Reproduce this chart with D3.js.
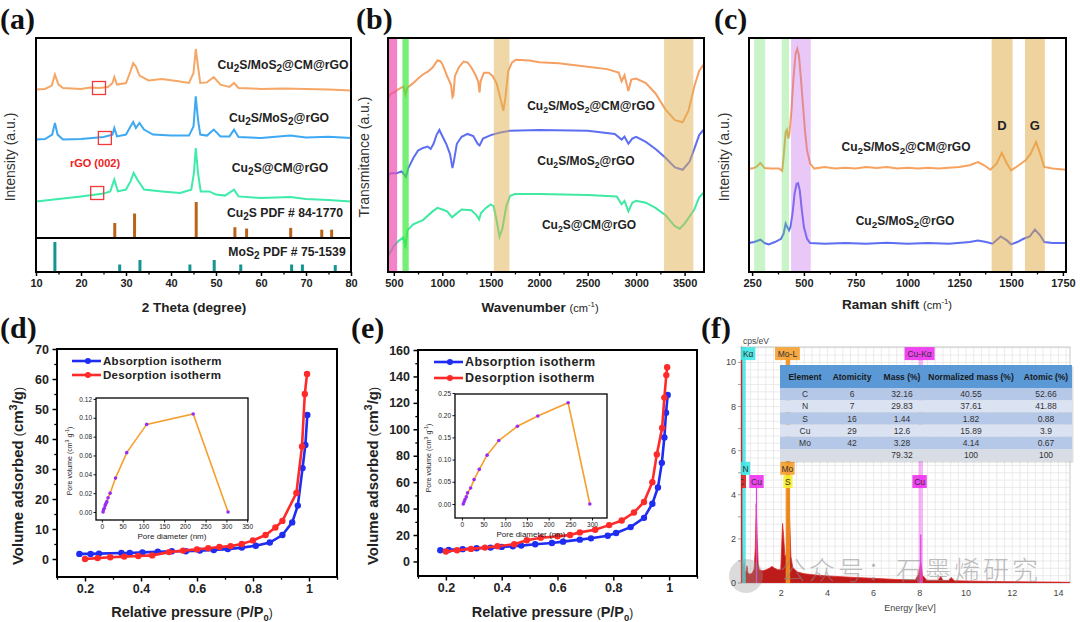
<!DOCTYPE html>
<html><head><meta charset="utf-8">
<script src="https://cdn.jsdelivr.net/npm/d3@7"></script>
<style>body{margin:0;background:#fff}svg{display:block}</style>
</head><body>
<svg id="c" width="1080" height="622"></svg>
<script>
// ---------------- DATA ----------------
// (a) XRD (2θ, a.u.)
const xrdCMrGO = [[10,74.2],[12,74.5],[13.5,76.2],[14.2,81.7],[15,76.7],[16,75],[18,74.8],[20,74.5],[22,75.2],[24,75],[26,75.5],[27,77.5],[27.4,80.5],[28,76.7],[30,77.5],[31,83.3],[31.6,87.5],[32.2,85.8],[33,81.2],[35,78.8],[38,79.5],[42,78.3],[44,77.5],[45,82.5],[45.5,94.5],[46,85.8],[46.5,77.5],[48,77.8],[49.5,80.5],[51,76.7],[53,75.5],[54,77.5],[55,75],[58,74.8],[60,74.5],[65,74.8],[70,74.5],[75,74.3],[80,73.8]];
const xrdMoS2rGO = [[10,49.2],[12,49.5],[13.6,51.7],[14.2,57.5],[14.8,51.7],[16,49.2],[20,49.5],[25,50.5],[27,51.7],[27.4,55],[28,50.8],[30,51.7],[31,55.8],[31.6,58],[32.2,55],[33,57.5],[34,54.2],[36,51.7],[40,51.2],[44,51.2],[45,55.8],[45.5,70.8],[46,59.2],[46.5,51.7],[48,51.2],[49.5,54.2],[51,50.8],[53,50.8],[54,54.2],[55,50.5],[60,50],[66.5,51.2],[70,50.3],[75,50.6],[80,50]];
const xrdCuSCM = [[10,18.3],[15,19.5],[20,20.8],[25,22.2],[26.5,23.3],[27.4,29.2],[28.2,23.3],[30,24.2],[31,28.3],[31.7,32.5],[32.5,29.2],[34,24.2],[38,23.3],[42,22.5],[44.5,24.2],[45.1,32.5],[45.5,45],[46,32.5],[46.6,23.3],[48.5,23.3],[50,21.7],[52,21.2],[54,24.2],[55,20.8],[60,20],[66.5,20.5],[70,19.5],[75,19],[80,18.3]];
const pdfCu2S = [[27.5,40],[31.9,67],[45.6,100],[54.2,28],[56.8,24],[66.6,26],[73.5,21],[75.7,21]];
const pdfMoS2 = [[14.2,100],[28.6,25],[33.1,40],[44.2,25],[49.6,40],[55.5,25],[66.8,25],[69.2,25],[76.5,23]];
const rGOmarks = [[24.0,75],[25.3,50],[23.6,22.5]];
const xrdLabels = ["Cu_2S/MoS_2@CM@rGO","Cu_2S/MoS_2@rGO","Cu_2S@CM@rGO","Cu_2S PDF # 84-1770","MoS_2 PDF # 75-1539"];
const xrdTicks = [10,20,30,40,50,60,70,80];

// (b) FTIR (cm-1, a.u.)
const ftirCMrGO = [[440,74.1],[470,76.3],[500,76.7],[550,78.2],[600,79.3],[620,75.9],[640,78.8],[700,80.7],[750,82.7],[800,84.4],[850,85.6],[900,87.4],[950,90.4],[980,90.1],[1000,88.9],[1050,83.7],[1090,80],[1105,74.8],[1115,75.6],[1130,83.7],[1170,87.4],[1220,89.9],[1260,89.6],[1300,87.4],[1340,84.4],[1370,81.5],[1385,76.7],[1395,81.5],[1430,85.2],[1480,85.2],[1520,83.7],[1560,80.7],[1600,74.1],[1630,68.9],[1650,74.1],[1680,85.9],[1720,89.6],[1760,90.7],[1900,90.4],[2000,89.6],[2200,89.2],[2500,87.7],[2700,86.7],[2820,85.2],[2850,81.5],[2880,84.1],[2920,77.3],[2950,82.2],[3000,82.7],[3100,80.7],[3200,76.3],[3300,69.6],[3400,64.9],[3480,64],[3540,68.9],[3600,79.3],[3650,85.9],[3700,88.9]];
const ftirMoS2rGO = [[440,36.3],[445,41.5],[470,42.2],[530,42.2],[580,43],[610,41.5],[625,40.7],[650,44.4],[700,48.6],[750,51.9],[800,53],[850,53.6],[880,52.6],[910,54.8],[940,58.5],[970,60.7],[1000,58.1],[1040,54.8],[1080,50.4],[1105,44.4],[1120,47.4],[1150,54.8],[1200,57.8],[1260,59],[1320,58.1],[1365,54.8],[1385,54.1],[1420,57],[1500,58.5],[1600,59.6],[1700,60.4],[2000,60.7],[2500,60.4],[2780,59],[2850,56.6],[2880,57.8],[2920,54.8],[2960,57],[3000,57.8],[3100,55.6],[3200,52.6],[3300,48.9],[3400,44.7],[3480,43.7],[3550,47.1],[3600,52.6],[3650,58.5],[3700,61]];
const ftirCuSCM = [[440,6.7],[470,8.9],[500,11.1],[550,13.3],[600,14.8],[620,10.1],[640,17.8],[700,20.4],[800,22.2],[900,25.9],[950,27.4],[1000,26.7],[1050,25.9],[1100,23.4],[1130,24.4],[1200,26.7],[1300,26.4],[1350,24.4],[1380,22.5],[1400,25.2],[1450,27.4],[1500,28.9],[1530,28.1],[1560,22.2],[1590,15.1],[1620,18.5],[1660,28.1],[1700,32.6],[1750,33.3],[2000,33.3],[2500,32.9],[2800,32.3],[2850,28.9],[2880,30.4],[2920,25.9],[2960,29.6],[3000,30.4],[3100,29.6],[3200,27.4],[3300,24.4],[3400,19.6],[3450,18.5],[3500,20.7],[3600,26.7],[3650,31.9],[3700,34.1]];
const ftirBands = [[442,534,"#ee4fae",0.7],[589,654,"#3ce83c",0.7],[1532,1693,"#e0b050",0.5],[3288,3590,"#e0b050",0.5]];
const ftirLabels = ["Cu_2S/MoS_2@CM@rGO","Cu_2S/MoS_2@rGO","Cu_2S@CM@rGO"];
const ftirTicks = [500,1000,1500,2000,2500,3000,3500];

// (c) Raman (cm-1, a.u.)
const ramanCMrGO = [[235,44.2],[250,44.2],[270,44.9],[290,46.6],[310,44.4],[340,44.2],[380,44.2],[395,43.2],[402,49.1],[412,59.8],[418,60.8],[425,57],[430,59.1],[440,69.1],[450,83.3],[460,93.3],[468,95.4],[476,92.6],[485,83.3],[495,71.9],[505,60.5],[515,52],[530,46.3],[550,44.2],[600,44.9],[650,44.2],[700,44.6],[750,44.2],[800,44.9],[850,44.4],[900,44.9],[950,44.2],[1000,44.6],[1050,44.2],[1100,44.6],[1150,44.2],[1200,44.6],[1250,44.9],[1300,45.6],[1340,47],[1370,45.6],[1400,43.7],[1430,46.3],[1455,50.9],[1480,46.3],[1500,43.4],[1530,45.2],[1570,47.7],[1595,50.6],[1620,55.6],[1640,50.6],[1660,44.9],[1700,44.2],[1765,43.7]];
const ramanMoS2rGO = [[235,12.4],[260,12.8],[290,13.8],[310,12.4],[330,11.8],[360,12.8],[390,14.2],[402,16.4],[412,20.7],[420,19.2],[428,17.8],[435,19.2],[445,24.9],[455,33.5],[465,37.7],[472,38],[480,34.9],[490,26.4],[500,19.2],[515,14.2],[530,12.4],[600,12.1],[700,12.4],[800,12.1],[900,12.5],[1000,12.1],[1100,12.4],[1200,12.1],[1300,12.8],[1340,13.5],[1380,12.8],[1410,12.1],[1450,15.2],[1480,13.5],[1500,11.8],[1530,12.8],[1560,14.2],[1590,15.2],[1615,18.1],[1640,15.7],[1660,12.8],[1700,12.4],[1765,12.4]];
const ramanBands = [[260,313,"#60e060",0.35],[393,428,"#60e060",0.35],[438,533,"#c060e8",0.35],[1406,1507,"#e0a840",0.5],[1567,1663,"#e0a840",0.5]];
const ramanLabels = ["Cu_2S/MoS_2@CM@rGO","Cu_2S/MoS_2@rGO"];
const ramanTicks = [250,500,750,1000,1250,1500,1750];

// (d) BET isotherms (P/P0, cm3/g)
const dAds = [[0.18,1.7],[0.22,1.7],[0.25,1.8],[0.33,2.0],[0.36,2.0],[0.405,2.2],[0.46,2.4],[0.51,2.6],[0.56,2.6],[0.61,2.8],[0.66,3.0],[0.71,3.3],[0.76,3.8],[0.81,4.4],[0.86,5.5],[0.905,8.0],[0.94,12.2],[0.96,17.8],[0.977,30.3],[0.987,38],[0.994,48]];
const dDes = [[0.2,0],[0.245,0.3],[0.29,0.6],[0.34,0.8],[0.39,1.0],[0.44,1.2],[0.5,2.3],[0.55,2.8],[0.6,3.2],[0.64,3.6],[0.68,4.0],[0.72,4.3],[0.76,5.0],[0.8,6.2],[0.845,8.0],[0.88,10.5],[0.905,12.7],[0.955,22],[0.975,37.5],[0.985,55],[0.993,61.7]];
const dPore = [[3,0],[4,0.002],[6,0.004],[8,0.007],[10,0.009],[12,0.011],[15,0.015],[20,0.02],[33,0.036],[60,0.063],[108,0.093],[220,0.104],[304,0]];
const dYTicks = [0,10,20,30,40,50,60,70];
const dInsetYTicks = [0,0.02,0.04,0.06,0.08,0.10,0.12];
const dInsetXTicks = [0,50,100,150,200,250,300,350];

// (e) BET isotherms
const eAds = [[0.18,8.5],[0.21,8.8],[0.26,9.3],[0.31,10],[0.36,10.5],[0.4,11],[0.44,11.5],[0.47,12],[0.52,13],[0.58,14],[0.62,15],[0.68,16.5],[0.72,17.5],[0.78,19.5],[0.81,21.5],[0.862,26],[0.91,33],[0.94,43.7],[0.96,56],[0.974,74.6],[0.983,93.8],[0.989,112.5],[0.995,126]];
const eDes = [[0.2,7.5],[0.24,8.5],[0.29,9.5],[0.34,10.5],[0.385,11.5],[0.445,13],[0.49,16],[0.54,18],[0.6,19],[0.645,20],[0.68,22],[0.735,24],[0.785,27.5],[0.83,31],[0.874,37],[0.91,45],[0.94,60],[0.956,81],[0.975,101],[0.983,124],[0.99,141],[0.993,147]];
const ePore = [[3,0],[5,0.005],[7,0.01],[10,0.016],[13,0.025],[20,0.036],[28,0.055],[40,0.078],[58,0.11],[85,0.143],[128,0.175],[175,0.198],[245,0.228],[295,0]];
const eYTicks = [0,20,40,60,80,100,120,140,160];
const eInsetYTicks = [0,0.05,0.10,0.15,0.20,0.25];
const eInsetXTicks = [0,50,100,150,200,250,300];
const betXTicks = [0.2,0.4,0.6,0.8,1.0];
const legendNames = ["Absorption isotherm","Desorption isotherm"];

// (f) EDS spectrum (keV, cps/eV)
const edsSpec = [[0.26,10.7],[0.30,10.7],[0.32,2],[0.34,0.8],[0.37,0.75],[0.40,0.9],[0.43,0.55],[0.48,0.5],[0.52,0.78],[0.56,0.45],[0.65,0.4],[0.75,0.45],[0.83,0.65],[0.88,1.6],[0.92,3.6],[0.96,2.0],[1.0,0.9],[1.05,0.6],[1.2,0.55],[1.35,0.6],[1.5,0.68],[1.6,0.75],[1.7,0.68],[1.85,0.6],[1.98,0.6],[2.02,1.6],[2.06,2.7],[2.1,2.2],[2.16,1.2],[2.22,1.3],[2.28,4.3],[2.32,4.8],[2.36,3.0],[2.42,1.2],[2.5,0.7],[2.7,0.5],[3.0,0.42],[3.5,0.36],[4.0,0.32],[5.0,0.26],[6.0,0.21],[7.0,0.16],[7.8,0.14],[7.95,0.4],[8.04,0.95],[8.12,0.35],[8.3,0.13],[8.8,0.12],[8.9,0.3],[9.0,0.12],[9.25,0.12],[9.35,0.25],[9.5,0.1],[10,0.09],[11,0.07],[12,0.06],[13,0.05],[14,0.04],[14.5,0.03]];
const edsLines = [[0.277,10.7,"#e02020",2,1],[0.39,10.7,"#3ee6e6",3.5,0.85],[0.93,4.6,"#e040e0",1.2,1],[2.29,10.4,"#f0901e",4.5,0.9],[8.04,10.4,"#f070f0",4.5,0.5]];
const edsTags = [["Kα",0.39,10.4,"#3ee6e6"],["Mo-L",2.27,10.4,"#f5a030"],["Cu-Kα",7.99,10.4,"#f030f0"],["N",0.45,5.2,"#3ee6e6"],["Mo",2.27,5.2,"#f5a030"],["C",0.277,4.6,"#e82020"],["Cu",0.93,4.6,"#f030f0"],["S",2.29,4.6,"#f5f030"],["Cu",7.99,4.6,"#f030f0"]];
const edsYTicks = [0,2,4,6,8,10];
const edsXTicks = [2,4,6,8,10,12,14];
const tableHeader = ["Element","Atomicity","Mass (%)","Normalized mass (%)","Atomic (%)"];
const tableRows = [["C","6","32.16","40.55","52.66"],["N","7","29.83","37.61","41.88"],["S","16","1.44","1.82","0.88"],["Cu","29","12.6","15.89","3.9"],["Mo","42","3.28","4.14","0.67"],["","","79.32","100","100"]];
const watermark = "公众号：石墨烯研究";

// ---------------- HELPERS ----------------
const FONT = "'Liberation Sans', Arial, Helvetica, sans-serif";
const SERIF = "'Liberation Serif', 'Times New Roman', serif";
const svg = d3.select("#c").attr("font-family", FONT);

// markup: _x subscript, ^x superscript, ~{..} smaller normal text, `{..} small normal superscript
function rich(el, str, scale){
  scale = scale || 0.72;
  const re = /([_^~`])(\{[^}]*\}|.)/g;
  let last = 0, m; const parts = [];
  while ((m = re.exec(str))) {
    if (m.index > last) parts.push({t: str.slice(last, m.index), k: ""});
    let t = m[2]; if (t[0] === "{") t = t.slice(1, -1);
    parts.push({t, k: m[1]});
    last = re.lastIndex;
  }
  if (last < str.length) parts.push({t: str.slice(last), k: ""});
  const fs = parseFloat(el.attr("font-size"));
  let cur = 0;
  parts.forEach(p => {
    const target = p.k === "_" ? fs * 0.28 : (p.k === "^" || p.k === "`") ? -fs * 0.38 : 0;
    const ts = el.append("tspan").text(p.t).attr("dy", target - cur);
    if (p.k === "_" || p.k === "^") ts.attr("font-size", fs * scale);
    if (p.k === "~") ts.attr("font-size", fs * 0.82).attr("font-weight", "normal");
    if (p.k === "`") ts.attr("font-size", fs * 0.58).attr("font-weight", "normal");
    cur = target;
  });
  return el;
}
function txt(g, x, y, str, o){
  o = o || {};
  const t = g.append("text").attr("x", x).attr("y", y)
    .attr("font-size", o.fs || 11).attr("font-weight", o.fw || "bold")
    .attr("fill", o.fill || "#222").attr("text-anchor", o.anchor || "middle");
  if (o.rot) t.attr("transform", `rotate(-90,${x},${y})`);
  if (o.ls) t.attr("letter-spacing", o.ls);
  if (o.family) t.attr("font-family", o.family);
  rich(t, str, o.scale);
  return t;
}
function frame(g, x0, y0, x1, y1, w){
  g.append("rect").attr("x", x0).attr("y", y0).attr("width", x1 - x0).attr("height", y1 - y0)
    .attr("fill", "none").attr("stroke", "#000").attr("stroke-width", w || 2);
}
function styleAxis(sel, fs, fw, sw){
  sel.select(".domain").remove();
  sel.selectAll("text").attr("font-size", fs).attr("font-weight", fw).attr("font-family", FONT).attr("fill", "#222");
  sel.selectAll("line").attr("stroke", "#000").attr("stroke-width", sw);
}
function xAxis(g, scale, y, ticks, minor, fs, size){
  g.append("g").attr("transform", `translate(0,${y})`)
    .call(d3.axisBottom(scale).tickValues(minor).tickSize(size * 0.6).tickFormat(""))
    .call(s => styleAxis(s, fs, "bold", 1.3));
  g.append("g").attr("transform", `translate(0,${y})`)
    .call(d3.axisBottom(scale).tickValues(ticks).tickSize(size).tickPadding(3).tickFormat(d => d3.format("")(d)))
    .call(s => styleAxis(s, fs, "bold", 1.5));
}
function mids(t){ const r = []; for (let i = 0; i < t.length - 1; i++) r.push((t[i] + t[i + 1]) / 2); return r; }

// ---------------- PANEL LETTERS ----------------
[["(a)",0,29],["(b)",356,29],["(c)",714,29],["(d)",0,338],["(e)",351,338],["(f)",701,338]].forEach(p => {
  svg.append("text").attr("x", p[1]).attr("y", p[2]).attr("font-family", SERIF)
    .attr("font-weight", "bold").attr("font-size", 30).attr("fill", "#111").text(p[0]);
});

// ---------------- (a) XRD ----------------
{
  const g = svg.append("g");
  const x = d3.scaleLinear().domain([10, 80]).range([36, 351]);
  const y = d3.scaleLinear().domain([0, 100]).range([238, 38]);
  const yCu = d3.scaleLinear().domain([0, 100]).range([237, 202]);
  const yMo = d3.scaleLinear().domain([0, 100]).range([272, 242]);
  const line = d3.line().x(d => x(d[0])).y(d => y(d[1]));
  [[xrdCMrGO, "#f6a766"], [xrdMoS2rGO, "#3ea9f2"], [xrdCuSCM, "#3debaa"]].forEach(s => {
    g.append("path").attr("d", line(s[0])).attr("fill", "none").attr("stroke", s[1]).attr("stroke-width", 2);
  });
  g.selectAll(".cu").data(pdfCu2S).enter().append("rect")
    .attr("x", d => x(d[0]) - 1.5).attr("width", 3).attr("y", d => yCu(d[1])).attr("height", d => yCu(0) - yCu(d[1]))
    .attr("fill", "#b8651b");
  g.selectAll(".mo").data(pdfMoS2).enter().append("rect")
    .attr("x", d => x(d[0]) - 1.5).attr("width", 3).attr("y", d => yMo(d[1])).attr("height", d => yMo(0) - yMo(d[1]))
    .attr("fill", "#159592");
  g.selectAll(".sq").data(rGOmarks).enter().append("rect")
    .attr("x", d => x(d[0]) - 6.5).attr("y", d => y(d[1]) - 6.5).attr("width", 13).attr("height", 13)
    .attr("fill", "none").attr("stroke", "#f03a3a").attr("stroke-width", 1.3);
  txt(g, 95, 167, "rGO (002)", {fs: 11, fill: "#ee2222"});
  const lp = [[283, 69], [279, 122], [280, 172], [285, 217], [287, 256]];
  xrdLabels.forEach((s, i) => txt(g, lp[i][0], lp[i][1], s, {fs: 12.2, scale: 0.82, fill: "#222"}));
  frame(g, 36, 38, 351, 272);
  g.append("line").attr("x1", 36).attr("x2", 351).attr("y1", 238).attr("y2", 238).attr("stroke", "#000").attr("stroke-width", 2);
  xAxis(g, x, 272, xrdTicks, mids(xrdTicks), 11, 4);
  txt(g, 15, 157, "Intensity (a.u.)", {fs: 14, fw: "normal", rot: true, fill: "#333"});
  txt(g, 194, 312, "2 Theta (degree)", {fs: 13.5, fill: "#222"});
}

// ---------------- (b) FTIR ----------------
{
  const g = svg.append("g");
  const x = d3.scaleLinear().domain([440, 3700]).range([388, 704]);
  const y = d3.scaleLinear().domain([0, 100]).range([272, 38]);
  const line = d3.line().x(d => x(d[0])).y(d => y(d[1]));
  [[ftirCMrGO, "#f5a062"], [ftirMoS2rGO, "#5d6ef2"], [ftirCuSCM, "#40e9a2"]].forEach(s => {
    g.append("path").attr("d", line(s[0])).attr("fill", "none").attr("stroke", s[1]).attr("stroke-width", 2);
  });
  g.selectAll(".band").data(ftirBands).enter().append("rect")
    .attr("x", d => x(d[0])).attr("width", d => x(d[1]) - x(d[0])).attr("y", 38).attr("height", 234)
    .attr("fill", d => d[2]).attr("opacity", d => d[3]);
  const lp = [[591, 110], [586, 165], [589, 229]];
  ftirLabels.forEach((s, i) => txt(g, lp[i][0], lp[i][1], s, {fs: 12, scale: 0.72}));
  frame(g, 388, 38, 704, 272);
  xAxis(g, x, 272, ftirTicks, mids(ftirTicks), 11, 4);
  txt(g, 369, 157, "Transmitance (a.u.)", {fs: 14, fw: "normal", rot: true, fill: "#333"});
  txt(g, 540, 312, "Wavenumber ~{(cm}`{-1}~{)}", {fs: 13.5});
}

// ---------------- (c) Raman ----------------
{
  const g = svg.append("g");
  const x = d3.scaleLinear().domain([235, 1765]).range([749, 1066]);
  const y = d3.scaleLinear().domain([0, 100]).range([272, 38]);
  const line = d3.line().x(d => x(d[0])).y(d => y(d[1]));
  [[ramanCMrGO, "#f7a25e"], [ramanMoS2rGO, "#5d6ef2"]].forEach(s => {
    g.append("path").attr("d", line(s[0])).attr("fill", "none").attr("stroke", s[1]).attr("stroke-width", 2);
  });
  g.selectAll(".band").data(ramanBands).enter().append("rect")
    .attr("x", d => x(d[0])).attr("width", d => x(d[1]) - x(d[0])).attr("y", 38).attr("height", 234)
    .attr("fill", d => d[2]).attr("opacity", d => d[3]);
  txt(g, x(1456), 130, "D", {fs: 13});
  txt(g, x(1615), 130, "G", {fs: 13});
  const lp = [[906, 151], [905, 225]];
  ramanLabels.forEach((s, i) => txt(g, lp[i][0], lp[i][1], s, {fs: 12, scale: 0.82}));
  frame(g, 749, 38, 1066, 272);
  xAxis(g, x, 272, ramanTicks, mids(ramanTicks), 11, 4);
  txt(g, 729, 157, "Intensity (a.u.)", {fs: 14, fw: "normal", rot: true, fill: "#333"});
  txt(g, 897, 309, "Raman shift ~{(cm}`{-1}~{)}", {fs: 13.5});
}

// ---------------- BET panels ----------------
function betPanel(o){
  const g = svg.append("g");
  const x = d3.scaleLinear().domain([0.1, 1.1]).range([o.x0, o.x1]);
  const y = d3.scaleLinear().domain(o.yd).range([o.y1, o.y0]);
  const line = d3.line().x(d => x(d[0])).y(d => y(d[1]));
  [[o.ads, "#1f2cf2"], [o.des, "#ff2a2a"]].forEach(s => {
    g.append("path").attr("d", line(s[0])).attr("fill", "none").attr("stroke", s[1]).attr("stroke-width", 2.6);
    g.selectAll(null).data(s[0]).enter().append("circle")
      .attr("cx", d => x(d[0])).attr("cy", d => y(d[1])).attr("r", 3.2).attr("fill", s[1]);
  });
  // legend
  legendNames.forEach((nm, i) => {
    const ly = o.leg[1] + i * o.leg[3];
    const c = i ? "#ff2a2a" : "#1f2cf2";
    g.append("line").attr("x1", o.leg[0]).attr("x2", o.leg[0] + o.leg[2]).attr("y1", ly).attr("y2", ly).attr("stroke", c).attr("stroke-width", 2.6);
    g.append("circle").attr("cx", o.leg[0] + o.leg[2] * 0.55).attr("cy", ly).attr("r", 3).attr("fill", c);
    txt(g, o.leg[0] + o.leg[2] + 2, ly + 4.3, nm, {fs: o.legFs, anchor: "start", ls: o.legLs, fill: "#222"});
  });
  frame(g, o.x0, o.y0, o.x1, o.y1, 2);
  xAxis(g, x, o.y1, betXTicks, [0.1,0.3,0.5,0.7,0.9,1.1], 12.5, 4.5);
  g.append("g").attr("transform", `translate(${o.x0},0)`)
    .call(d3.axisLeft(y).tickValues(mids(o.yt)).tickSize(2.7).tickFormat(""))
    .call(s => styleAxis(s, 12.5, "bold", 1.3));
  g.append("g").attr("transform", `translate(${o.x0},0)`)
    .call(d3.axisLeft(y).tickValues(o.yt).tickSize(4.5).tickPadding(3.5).tickFormat(d3.format("d")))
    .call(s => styleAxis(s, 12.5, "bold", 1.5));
  txt(g, o.ytx, o.yty, "Volume adsorbed ~{(}cm^3/g~{)}", {fs: 15, rot: true, scale: 0.72});
  txt(g, (o.x0 + o.x1) / 2 - 5, 617, "Relative pressure ~{(}P/P_0~{)}", {fs: 14.5, scale: 0.65});
  // inset
  const ig = g.append("g");
  const ix = d3.scaleLinear().domain(o.ixd).range([o.ib[0], o.ib[2]]);
  const iy = d3.scaleLinear().domain(o.iyd).range([o.ib[3], o.ib[1]]);
  ig.append("rect").attr("x", o.ib[0]).attr("y", o.ib[1]).attr("width", o.ib[2] - o.ib[0]).attr("height", o.ib[3] - o.ib[1]).attr("fill", "#fff");
  ig.append("path").attr("d", d3.line().x(d => ix(d[0])).y(d => iy(d[1]))(o.pore)).attr("fill", "none").attr("stroke", "#f5a02e").attr("stroke-width", 1.6);
  ig.selectAll(null).data(o.pore).enter().append("circle").attr("cx", d => ix(d[0])).attr("cy", d => iy(d[1])).attr("r", 1.8).attr("fill", "#9a2cf5");
  frame(ig, o.ib[0], o.ib[1], o.ib[2], o.ib[3], 1.3);
  ig.append("g").attr("transform", `translate(0,${o.ib[3]})`)
    .call(d3.axisBottom(ix).tickValues(o.ixt).tickSize(2.5).tickPadding(1.5))
    .call(s => styleAxis(s, 6.5, "normal", 0.9));
  ig.append("g").attr("transform", `translate(${o.ib[0]},0)`)
    .call(d3.axisLeft(iy).tickValues(o.iyt).tickSize(2.5).tickPadding(1.5).tickFormat(d3.format(".2f")))
    .call(s => styleAxis(s, 6.5, "normal", 0.9));
  txt(ig, o.iylx, (o.ib[1] + o.ib[3]) / 2 + 2, "Pore volume  (cm^3 g^{-1})", {fs: 7, fw: "normal", rot: true, scale: 0.75});
  txt(ig, (o.ib[0] + o.ib[2]) / 2, o.ib[3] + 19, "Pore diameter (nm)", {fs: 8, fw: "normal"});
}
betPanel({x0: 57, x1: 337, y0: 349, y1: 577, yd: [-6, 70], yt: dYTicks, ads: dAds, des: dDes,
  leg: [72, 361, 29, 14], legFs: 11.5, legLs: 0.3, ytx: 23, yty: 476,
  ib: [96, 398, 248, 520], ixd: [-14, 352], iyd: [-0.0085, 0.121], ixt: dInsetXTicks, iyt: dInsetYTicks, pore: dPore, iylx: 72});
betPanel({x0: 418, x1: 697, y0: 350, y1: 576, yd: [-11, 160], yt: eYTicks, ads: eAds, des: eDes,
  leg: [434, 362, 29, 16], legFs: 12.5, legLs: 0.4, ytx: 378, yty: 476,
  ib: [455, 394, 607, 518], ixd: [-16, 334.6], iyd: [-0.0315, 0.2477], ixt: eInsetXTicks, iyt: eInsetYTicks, pore: ePore, iylx: 431});

// ---------------- (f) EDS ----------------
{
  const g = svg.append("g");
  const X0 = 741, X1 = 1070, Y0 = 347, Y1 = 583;
  const x = d3.scaleLinear().domain([0.26, 14.5]).range([X0, X1]);
  const y = d3.scaleLinear().domain([0, 10.7]).range([Y1, Y0]);
  svg.append("clipPath").attr("id", "fclip").append("rect").attr("x", X0).attr("y", Y0 - 2).attr("width", X1 - X0).attr("height", Y1 - Y0 + 2);
  const gg = g.append("g");
  d3.range(1, 44).forEach(i => {
    const e = i / 3;
    if (e > 0.3 && e < 14.5) gg.append("line").attr("x1", x(e)).attr("x2", x(e)).attr("y1", Y0).attr("y2", Y1).attr("stroke", "#e6e6e6").attr("stroke-width", 0.8);
  });
  d3.range(1, 33).forEach(i => {
    const v = i / 3;
    gg.append("line").attr("x1", X0).attr("x2", X1).attr("y1", y(v)).attr("y2", y(v)).attr("stroke", "#e6e6e6").attr("stroke-width", 0.8);
  });
  g.append("rect").attr("x", X0).attr("y", Y0).attr("width", X1 - X0).attr("height", Y1 - Y0).attr("fill", "none").attr("stroke", "#c8c8c8").attr("stroke-width", 1);
  const pg = g.append("g").attr("clip-path", "url(#fclip)");
  pg.append("path").attr("d", d3.area().x(d => x(d[0])).y0(y(0)).y1(d => y(d[1]))(edsSpec))
    .attr("fill", "#bd1a1a").attr("stroke", "#e02a2a").attr("stroke-width", 0.8);
  edsLines.forEach(l => {
    pg.append("line").attr("x1", x(l[0])).attr("x2", x(l[0])).attr("y1", y(l[1])).attr("y2", y(0))
      .attr("stroke", l[2]).attr("stroke-width", l[3]).attr("opacity", l[4]);
  });
  pg.append("line").attr("x1", x(8.04)).attr("x2", x(8.04)).attr("y1", y(2.2)).attr("y2", y(0)).attr("stroke", "#e040e0").attr("stroke-width", 1.2);
  // watermark
  g.append("circle").attr("cx", 746).attr("cy", 576).attr("r", 17).attr("fill", "#999").attr("opacity", 0.35);
  g.append("text").attr("x", 780).attr("y", 580).attr("font-family", "'Noto Sans CJK SC', sans-serif")
    .attr("font-size", 26).attr("font-weight", 300).attr("fill", "#8a8a8a").attr("opacity", 0.55).attr("letter-spacing", 3).text(watermark);
  // tags
  edsTags.forEach(t => {
    const w = t[0].length * 5.2 + 4;
    let cx = x(t[1]);
    let left = t[0] === "C" ? cx - w / 2 : Math.max(cx - w / 2, X0);
    const tg = t[0] === "C" ? pg : g;
    tg.append("rect").attr("x", left).attr("y", y(t[2]) - 6.5).attr("width", w).attr("height", 13).attr("fill", t[3]).attr("opacity", 0.9);
    tg.append("text").attr("x", left + w / 2).attr("y", y(t[2]) + 3.2).attr("text-anchor", "middle")
      .attr("font-size", 8.5).attr("fill", "#333").text(t[0]);
  });
  // ticks
  edsYTicks.forEach(v => {
    g.append("text").attr("x", 736).attr("y", y(v) + 3).attr("text-anchor", "end").attr("font-size", 9).attr("fill", "#444").text(v);
  });
  d3.range(0, 11).forEach(v => g.append("line").attr("x1", X0 - 3).attr("x2", X0).attr("y1", y(v)).attr("y2", y(v)).attr("stroke", "#888").attr("stroke-width", 0.8));
  edsXTicks.forEach(v => {
    g.append("text").attr("x", x(v)).attr("y", 596).attr("text-anchor", "middle").attr("font-size", 9).attr("fill", "#444").text(v);
  });
  g.append("text").attr("x", 743).attr("y", 344).attr("font-size", 8.5).attr("fill", "#444").text("cps/eV");
  g.append("text").attr("x", 910).attr("y", 611).attr("text-anchor", "middle").attr("font-size", 9).attr("fill", "#444").text("Energy [keV]");
  // table
  const TX0 = 780, TX1 = 1072, TY0 = 365, HH = 23, RH = 12.2;
  const cols = [805, 852, 902, 971, 1046];
  g.append("rect").attr("x", TX0 + 1.5).attr("y", TY0 + 1.5).attr("width", TX1 - TX0).attr("height", HH + RH * 6).attr("fill", "#000").attr("opacity", 0.12);
  g.append("rect").attr("x", TX0).attr("y", TY0).attr("width", TX1 - TX0).attr("height", HH).attr("fill", "#5b98d6");
  tableHeader.forEach((h, i) => g.append("text").attr("x", cols[i]).attr("y", TY0 + HH / 2 + 3.2).attr("text-anchor", "middle")
    .attr("font-size", 8.5).attr("font-weight", "bold").attr("fill", "#1a1a1a").text(h));
  tableRows.forEach((r, j) => {
    const ry = TY0 + HH + j * RH;
    g.append("rect").attr("x", TX0).attr("y", ry).attr("width", TX1 - TX0).attr("height", RH)
      .attr("fill", j === 5 ? "#d8dde5" : (j % 2 ? "#dbe3f3" : "#b6c8e8"));
    r.forEach((c, i) => g.append("text").attr("x", cols[i]).attr("y", ry + RH / 2 + 3).attr("text-anchor", "middle")
      .attr("font-size", 8.5).attr("fill", "#333").text(c));
  });
}
</script>
</body></html>
